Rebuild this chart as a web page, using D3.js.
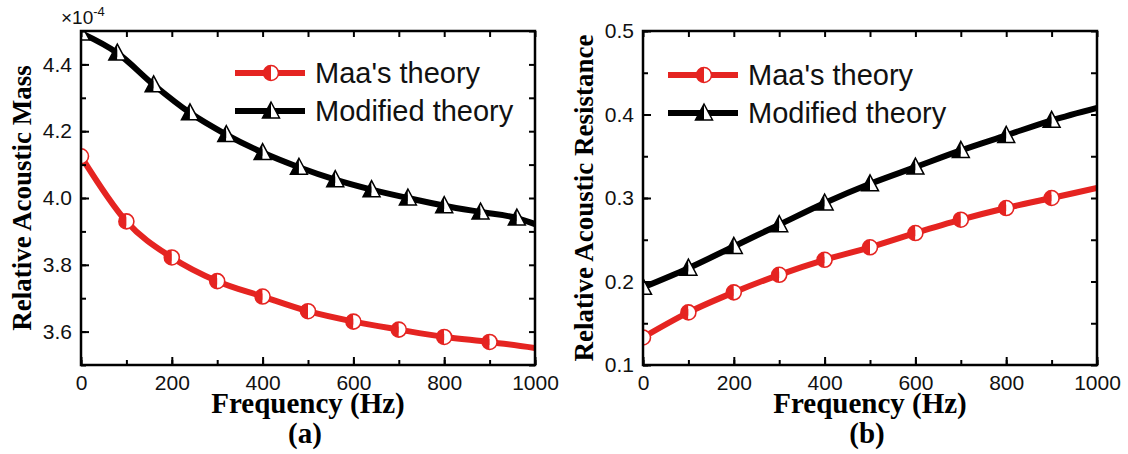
<!DOCTYPE html>
<html>
<head>
<meta charset="utf-8">
<script src="https://d3js.org/d3.v7.min.js"></script>
<style>
  body { margin: 0; background: #fff; }
  .tick text { font-family: "Liberation Sans", Arial, sans-serif; font-size: 21px; fill: #111; }
</style>
</head>
<body>
<svg id="chart"></svg>
<script>
const freqStep100 = [0, 100, 200, 300, 400, 500, 600, 700, 800, 900, 1000];
const freqStep80 = [0, 80, 160, 240, 320, 400, 480, 560, 640, 720, 800, 880, 960, 1000];

// panel (a): relative acoustic mass, x10^-4
const massMaa = [4.125, 3.930, 3.822, 3.751, 3.705, 3.661, 3.630, 3.606, 3.584, 3.569, 3.551];
const massModified = [4.494, 4.434, 4.339, 4.255, 4.190, 4.136, 4.092, 4.055, 4.025, 4.000, 3.977, 3.958, 3.940, 3.922];

// panel (b): relative acoustic resistance
const resMaa = [0.133, 0.163, 0.187, 0.208, 0.226, 0.241, 0.258, 0.274, 0.288, 0.300, 0.312];
const resModified = [0.193, 0.216, 0.242, 0.268, 0.294, 0.317, 0.337, 0.357, 0.375, 0.393, 0.408];

const xTicks = [0, 200, 400, 600, 800, 1000];
const massTicks = [3.6, 3.8, 4.0, 4.2, 4.4];
const resTicks = [0.1, 0.2, 0.3, 0.4, 0.5];
const legendNames = ["Maa's theory", "Modified theory"];

const RED = "#e52421";
const serif = '"Liberation Serif", "Times New Roman", serif';
const sans = '"Liberation Sans", Arial, sans-serif';

const svg = d3.select('#chart')
    .attr('width', 1128)
    .attr('height', 454);

svg.append('rect').attr('width', 1128).attr('height', 454).attr('fill', '#fff');

// markers, centred on 0,0
function drawCircle(g, r) {
    g.append('path').attr('d', `M0,${-r} A${r},${r} 0 0 0 0,${r} Z`).attr('fill', RED);
    g.append('path').attr('d', `M0,${-r} A${r},${r} 0 0 1 0,${r} Z`).attr('fill', '#fff');
    g.append('circle').attr('r', r).attr('fill', 'none').attr('stroke', RED).attr('stroke-width', 1.6);
}
function drawTriangle(g) {
    const w = 8.5, top = -9, bot = 7;
    g.append('path').attr('d', `M0,${top} L${-w},${bot} L0,${bot} Z`).attr('fill', '#000');
    g.append('path').attr('d', `M0,${top} L0,${bot} L${w},${bot} Z`).attr('fill', '#fff');
    g.append('path').attr('d', `M0,${top} L${-w},${bot} L${w},${bot} Z`)
        .attr('fill', 'none').attr('stroke', '#000').attr('stroke-width', 1.5).attr('stroke-linejoin', 'miter');
}

function panel(opt) {
    const { left, top, width, height, id } = opt;
    const g = svg.append('g').attr('transform', `translate(${left},${top})`);

    const x = d3.scaleLinear().domain([0, 1000]).range([0, width]);
    const y = d3.scaleLinear().domain(opt.yDomain).range([height, 0]);

    g.append('clipPath').attr('id', id).append('rect')
        .attr('width', width).attr('height', height);

    const plot = g.append('g').attr('clip-path', `url(#${id})`);
    const line = d3.line().x(d => x(d[0])).y(d => y(d[1])).curve(d3.curveMonotoneX);

    const redData = opt.redX.map((f, i) => [f, opt.red[i]]);
    const blackData = opt.blackX.map((f, i) => [f, opt.black[i]]);

    plot.append('path').datum(redData).attr('d', line)
        .attr('fill', 'none').attr('stroke', RED).attr('stroke-width', 6);
    plot.append('path').datum(blackData).attr('d', line)
        .attr('fill', 'none').attr('stroke', '#000').attr('stroke-width', 6);

    plot.selectAll('.circ').data(redData.filter(d => d[0] < 1000)).join('g')
        .attr('transform', d => `translate(${x(d[0])},${y(d[1])})`)
        .each(function () { drawCircle(d3.select(this), 7.5); });
    plot.selectAll('.tri').data(blackData.filter(d => d[0] < 1000)).join('g')
        .attr('transform', d => `translate(${x(d[0])},${y(d[1])})`)
        .each(function () { drawTriangle(d3.select(this)); });

    // axes, ticks pointing inward
    const yStep = opt.yMinor;
    const yMinorTicks = d3.range(opt.yDomain[0], opt.yDomain[1] + yStep / 2, yStep);
    const xMinorTicks = d3.range(0, 1001, 100);

    const axisStyle = a => {
        a.select('.domain').remove();
        a.selectAll('.tick line').attr('stroke', '#000').attr('stroke-width', 2);
    };

    g.append('g').attr('transform', `translate(0,${height})`)
        .call(d3.axisBottom(x).tickValues(xMinorTicks).tickSize(-5).tickFormat(''))
        .call(axisStyle);
    g.append('g').attr('transform', `translate(0,${height})`)
        .call(d3.axisBottom(x).tickValues(xTicks).tickSize(-8).tickPadding(10).tickFormat(d3.format('d')))
        .call(axisStyle);
    g.append('g')
        .call(d3.axisTop(x).tickValues(xMinorTicks).tickSize(-6).tickFormat(''))
        .call(axisStyle);

    g.append('g')
        .call(d3.axisLeft(y).tickValues(yMinorTicks).tickSize(-5).tickFormat(''))
        .call(axisStyle);
    g.append('g')
        .call(d3.axisLeft(y).tickValues(opt.yTicks).tickSize(-8).tickPadding(9).tickFormat(d3.format('.1f')))
        .call(axisStyle);
    g.append('g').attr('transform', `translate(${width},0)`)
        .call(d3.axisRight(y).tickValues(yMinorTicks).tickSize(-6).tickFormat(''))
        .call(axisStyle);

    g.append('rect').attr('width', width).attr('height', height)
        .attr('fill', 'none').attr('stroke', '#000').attr('stroke-width', 2.5);

    // legend
    const lg = g.append('g').attr('transform', `translate(${opt.legX},${opt.legY})`);
    [0, 1].forEach(i => {
        const row = lg.append('g').attr('transform', `translate(0,${i * 38})`);
        row.append('line').attr('x1', 0).attr('x2', 70)
            .attr('stroke', i === 0 ? RED : '#000').attr('stroke-width', 6);
        const m = row.append('g').attr('transform', 'translate(36,0)');
        if (i === 0) drawCircle(m, 7.5); else drawTriangle(m);
        row.append('text').attr('x', 80).attr('y', 10)
            .attr('font-family', sans).attr('font-size', 29).attr('fill', '#111')
            .text(legendNames[i]);
    });

    // axis titles
    g.append('text')
        .attr('transform', `translate(${opt.yLabelX},${height / 2}) rotate(-90)`)
        .attr('text-anchor', 'middle')
        .attr('font-family', serif).attr('font-weight', 'bold').attr('font-size', 27)
        .text(opt.yLabel);
    g.append('text').attr('x', width / 2).attr('y', 382)
        .attr('text-anchor', 'middle')
        .attr('font-family', serif).attr('font-weight', 'bold').attr('font-size', 29)
        .text('Frequency (Hz)');
    g.append('text').attr('x', width / 2 - 3).attr('y', 412)
        .attr('text-anchor', 'middle')
        .attr('font-family', serif).attr('font-weight', 'bold').attr('font-size', 29)
        .text(opt.tag);

    return g;
}

const ga = panel({
    id: 'clipA', left: 81, top: 31, width: 454, height: 334,
    yDomain: [3.5, 4.5], yTicks: massTicks, yMinor: 0.1,
    redX: freqStep100, red: massMaa, blackX: freqStep80, black: massModified,
    legX: 154, legY: 42, yLabelX: -50, yLabel: 'Relative Acoustic Mass', tag: '(a)'
});

const gb = panel({
    id: 'clipB', left: 643, top: 31, width: 454, height: 334,
    yDomain: [0.1, 0.5], yTicks: resTicks, yMinor: 0.05,
    redX: freqStep100, red: resMaa, blackX: freqStep100, black: resModified,
    legX: 25, legY: 44, yLabelX: -50, yLabel: 'Relative Acoustic Resistance', tag: '(b)'
});

// exponent note on panel (a)
const ex = ga.append('text').attr('x', -20).attr('y', -7)
    .attr('font-family', sans).attr('font-size', 19).attr('fill', '#111');
ex.append('tspan').text('\u00d710');
ex.append('tspan').attr('dy', -8).attr('font-size', 13).text('-4');
</script>
</body>
</html>
